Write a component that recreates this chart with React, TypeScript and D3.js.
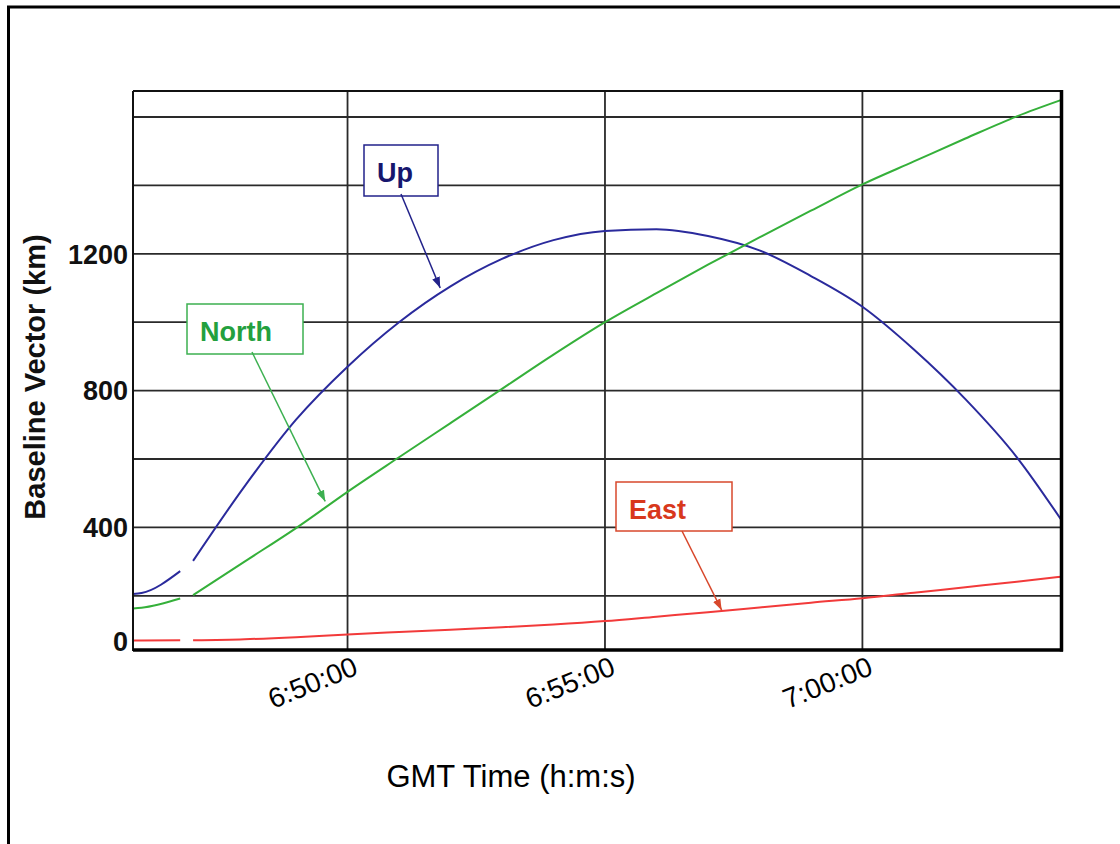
import React, { useEffect, useRef } from 'react';
import * as d3 from 'd3';

// GMT sample times (h:m:s); the null row is the data gap near the start
const times = ['6:45:50', '6:46:00', '6:46:45', '6:46:53', '6:47:00', '6:48:00', '6:49:00', '6:50:00', '6:51:00', '6:52:00', '6:53:00', '6:54:00', '6:55:00', '6:56:00', '6:57:00', '6:58:00', '6:59:00', '7:00:00', '7:01:00', '7:02:00', '7:03:00', '7:03:52'];
const up = [205, 208, 272, null, 302, 520, 715, 870, 1000, 1105, 1185, 1240, 1267, 1272, 1252, 1210, 1135, 1045, 920, 775, 605, 421];
const north = [163, 165, 192, null, 202, 300, 398, 504, 605, 705, 805, 905, 1000, 1085, 1168, 1248, 1326, 1403, 1470, 1537, 1602, 1650];
const east = [69, 69, 70, null, 70, 73, 79, 87, 94, 101, 108, 116, 126, 139, 152, 166, 180, 193, 209, 225, 241, 256];

const xTicks = ['6:50:00', '6:55:00', '7:00:00'];
const yTicks = [400, 800, 1200];
const yGrid = [200, 400, 600, 800, 1000, 1200, 1400, 1600];
const xRange = ['6:45:50', '7:03:52'];
const yRange = [41.5, 1676];

const toSec = (s: string) => {
  const [h, m, sec] = s.split(':').map(Number);
  return h * 3600 + m * 60 + sec;
};

const FONT = '"Liberation Sans", Arial, sans-serif';

const Chart = () => {
  const ref = useRef<SVGSVGElement>(null);

  useEffect(() => {
    const svg = d3.select(ref.current);
    svg.selectAll('*').remove();

    const left = 133;
    const right = 1061.5;
    const top = 91;
    const bottom = 650;

    const x = d3.scaleLinear().domain(xRange.map(toSec)).range([left, right]);
    const y = d3.scaleLinear().domain(yRange).range([bottom, top]);

    // outer frame (right/bottom edges fall outside the picture)
    svg.append('rect')
      .attr('x', 8.5).attr('y', 7).attr('width', 1300).attr('height', 1000)
      .attr('fill', 'none').attr('stroke', '#000').attr('stroke-width', 3);

    const defs = svg.append('defs');
    const series = [
      { name: 'up', values: up, color: '#2a2a9c' },
      { name: 'north', values: north, color: '#35b03a' },
      { name: 'east', values: east, color: '#f23a3a' },
    ];

    // grid
    const grid = svg.append('g').attr('stroke', '#2a2a2a').attr('stroke-width', 1.8);
    grid.selectAll('line.h').data(yGrid).enter().append('line')
      .attr('x1', left).attr('x2', right)
      .attr('y1', (d) => y(d)).attr('y2', (d) => y(d));
    grid.selectAll('line.v').data(xTicks).enter().append('line')
      .attr('y1', top).attr('y2', bottom)
      .attr('x1', (d) => x(toSec(d))).attr('x2', (d) => x(toSec(d)));

    // series lines
    const rows = times.map((t, i) => ({ t: toSec(t), i }));
    series.forEach((s) => {
      const line = d3.line<{ t: number; i: number }>()
        .defined((d) => s.values[d.i] != null)
        .x((d) => x(d.t))
        .y((d) => y(s.values[d.i] as number))
        .curve(d3.curveMonotoneX);
      svg.append('path')
        .attr('d', line(rows))
        .attr('fill', 'none')
        .attr('stroke', s.color)
        .attr('stroke-width', 2);
    });

    // plot frame
    svg.append('line').attr('x1', left).attr('x2', left).attr('y1', top).attr('y2', bottom + 1)
      .attr('stroke', '#111').attr('stroke-width', 2);
    svg.append('line').attr('x1', left).attr('x2', right).attr('y1', top).attr('y2', top)
      .attr('stroke', '#111').attr('stroke-width', 2);
    svg.append('line').attr('x1', left).attr('x2', right + 1.5).attr('y1', bottom).attr('y2', bottom)
      .attr('stroke', '#000').attr('stroke-width', 3.5);
    svg.append('line').attr('x1', right).attr('x2', right).attr('y1', top - 1).attr('y2', bottom + 1.5)
      .attr('stroke', '#000').attr('stroke-width', 3.5);

    // y tick labels
    const yLab = svg.append('g').attr('font-family', FONT).attr('font-size', 27)
      .attr('font-weight', 'bold').attr('fill', '#111').attr('text-anchor', 'end');
    yLab.selectAll('text').data(yTicks).enter().append('text')
      .attr('x', 128).attr('y', (d) => y(d)).attr('dy', '0.36em')
      .text((d) => d);
    yLab.append('text').attr('x', 128).attr('y', bottom + 1).text('0');

    // x tick labels
    svg.append('g').attr('font-family', FONT).attr('font-size', 28).attr('fill', '#000')
      .selectAll('text').data(xTicks).enter().append('text')
      .attr('text-anchor', 'end')
      .attr('transform', (d) => `translate(${x(toSec(d)) + 12},${674}) rotate(-22)`)
      .text((d) => d);

    // axis titles
    svg.append('text')
      .attr('font-family', FONT).attr('font-size', 31).attr('text-anchor', 'middle')
      .attr('x', 511).attr('y', 787).text('GMT Time (h:m:s)');
    svg.append('text')
      .attr('font-family', FONT).attr('font-size', 29).attr('font-weight', 'bold')
      .attr('fill', '#111').attr('text-anchor', 'middle')
      .attr('transform', 'translate(45,377) rotate(-90)').text('Baseline Vector (km)');

    // annotations
    const notes = [
      { label: 'Up', text: '#16166e', stroke: '#22228a', box: [364, 145, 74, 51], from: [401, 194], to: ['6:51:48', 1100] as [string, number] },
      { label: 'North', text: '#23a03e', stroke: '#3cb050', box: [187, 304, 116, 50], from: [252, 352], to: ['6:49:34', 476] as [string, number] },
      { label: 'East', text: '#d8381c', stroke: '#d8482c', box: [616, 482, 116, 49], from: [682, 531], to: ['6:57:16', 158] as [string, number] },
    ];
    notes.forEach((n, k) => {
      defs.append('marker')
        .attr('id', `ah${k}`)
        .attr('markerUnits', 'userSpaceOnUse')
        .attr('markerWidth', 12).attr('markerHeight', 10)
        .attr('refX', 11).attr('refY', 5)
        .attr('orient', 'auto')
        .append('path').attr('d', 'M0,1 L11,5 L0,9 Z').attr('fill', n.stroke);
      const [bx, by, bw, bh] = n.box;
      svg.append('rect')
        .attr('x', bx).attr('y', by).attr('width', bw).attr('height', bh)
        .attr('fill', '#fff').attr('stroke', n.stroke).attr('stroke-width', 1.5);
      svg.append('text')
        .attr('font-family', FONT).attr('font-size', 27).attr('font-weight', 'bold')
        .attr('fill', n.text).attr('x', bx + 13).attr('y', by + 37).text(n.label);
      svg.append('line')
        .attr('x1', n.from[0]).attr('y1', n.from[1])
        .attr('x2', x(toSec(n.to[0]))).attr('y2', y(n.to[1]))
        .attr('stroke', n.stroke).attr('stroke-width', 1.5)
        .attr('marker-end', `url(#ah${k})`);
    });
  }, []);

  return (
    <svg
      ref={ref}
      width={1120}
      height={844}
      style={{ position: 'absolute', left: 0, top: 0, background: '#fff' }}
    />
  );
};

export default function App() {
  return <Chart />;
}
